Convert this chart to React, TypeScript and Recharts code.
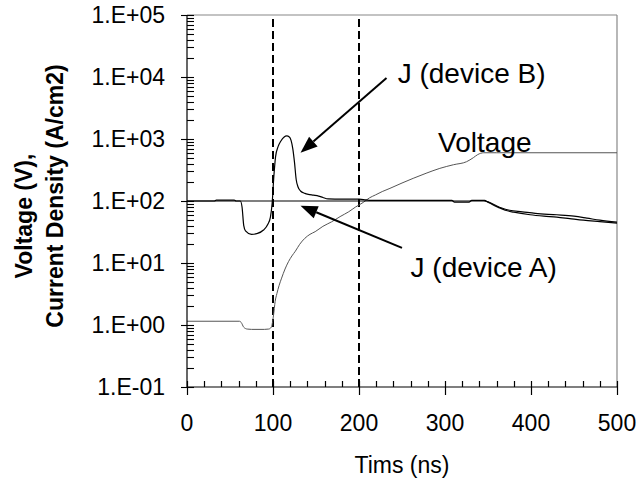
import { LineChart, Line, XAxis, YAxis, ReferenceLine, ReferenceDot, Label } from "recharts";

const FONT = "'Liberation Sans', Arial, Helvetica, sans-serif";

// Voltage (V)
const voltageTime = [0, 61, 63, 66, 70, 75, 90, 95, 98, 100.5, 102.5, 104.5, 107, 110, 114, 118, 122, 126, 131, 137, 143, 149, 158, 168, 178, 188, 196, 205, 212, 219, 227, 236, 250, 263, 278, 294, 310, 325, 333, 338, 345, 360, 500];
const voltageValue = [1.15, 1.15, 1.1, 0.92, 0.86, 0.85, 0.85, 0.86, 0.92, 1.4, 2.4, 3.2, 4.3, 5.7, 8, 10.5, 13, 15.5, 20, 25, 29, 32, 39, 46, 56, 67, 80, 95, 112, 125, 142, 160, 195, 232, 280, 336, 385, 430, 500, 560, 600, 600, 600];

// J (device B), A/cm2
const jBTime = [0, 32, 34, 55, 57, 62, 64, 66, 68, 75, 82, 89, 94, 97, 99, 101, 103, 106, 109, 113, 116, 119, 121, 123, 125, 127, 129, 132, 137, 141, 147, 153, 158, 164, 180, 200, 208, 214, 308, 311, 328, 331, 346, 350, 355, 362, 370, 380, 399, 415, 430, 445, 461, 480, 500];
const jBValue = [100, 100, 103, 103, 100, 100, 80, 40, 33, 29, 30, 34, 42, 55, 92, 250, 520, 760, 920, 1080, 1120, 1080, 950, 700, 420, 220, 170, 145, 133, 128, 124, 120, 114, 108, 107, 107, 104, 102, 102, 96, 96, 102, 102, 96, 88, 79, 71, 66, 60, 57, 55, 52, 49, 46.5, 44];

// J (device A), A/cm2
const jATime = [0, 345, 350, 358, 366, 375, 390, 405, 430, 450, 465, 480, 500];
const jAValue = [100, 100, 97, 86, 77, 71, 67, 63, 60, 57, 53, 49, 45.5];

const xMajor = [0, 100, 200, 300, 400, 500];
const xMinor = [20, 40, 60, 80, 120, 140, 160, 180, 220, 240, 260, 280, 320, 340, 360, 380, 420, 440, 460, 480];
const yMajor = [0.1, 1, 10, 100, 1000, 10000, 100000];
const yLabels = ["1.E-01", "1.E+00", "1.E+01", "1.E+02", "1.E+03", "1.E+04", "1.E+05"];
const yMinorMult = [2, 3, 4, 5, 6, 7, 8, 9];
const yMinor = yMajor.slice(0, -1).flatMap((d) => yMinorMult.map((m) => +(m * d).toPrecision(3)));

const voltageData = voltageTime.map((t, i) => ({ t, v: voltageValue[i] }));
const jBData = jBTime.map((t, i) => ({ t, v: jBValue[i] }));
const jAData = jATime.map((t, i) => ({ t, v: jAValue[i] }));

// annotation positions and arrow ends, in data units
const notes = [
  { text: "J (device B)", t: 245, v: 11600, from: { t: 232, v: 9600 }, to: { t: 132, v: 600 } },
  { text: "J (device A)", t: 260, v: 8.6, from: { t: 250, v: 17.5 }, to: { t: 132, v: 84 } },
  { text: "Voltage", t: 292, v: 900, from: null, to: null },
];

const X_TICK = 8;
const X_GAP = 20;
const Y_TICK = 7;
const Y_GAP = 15;

function YTick(props: any) {
  const { x, y, payload } = props;
  const i = yMajor.findIndex((m) => Math.abs(m - payload.value) < m * 1e-6);
  if (i < 0) return <g />;
  return (
    <text x={x} y={y + 8} textAnchor="end" fontFamily={FONT} fontSize={23} fill="#000">
      {yLabels[i]}
    </text>
  );
}

function XTick(props: any) {
  const { x, y, payload } = props;
  return (
    <text x={x} y={y + 16} textAnchor="middle" fontFamily={FONT} fontSize={23} fill="#000">
      {payload.value}
    </text>
  );
}

// tick marks: a full-length segment from the library scales, only its axis end is drawn
function xTickMark(major: boolean) {
  return (p: any) => {
    const xb = Math.round(p.x1) + 0.5;
    const yb = Math.max(p.y1, p.y2);
    return (
      <path d={`M${xb},${yb - 6}L${xb},${major ? yb + 8 : yb}`} stroke="#000" strokeWidth={1.2} fill="none" />
    );
  };
}

function yTickMark(major: boolean) {
  return (p: any) => {
    const xl = Math.min(p.x1, p.x2);
    const yb = Math.round(p.y1) + 0.5;
    return (
      <path d={`M${major ? xl - 6 : xl},${yb}L${xl + 7},${yb}`} stroke="#000" strokeWidth={1.1} fill="none" />
    );
  };
}

function Arrow(props: any) {
  const { x1, y1, x2, y2 } = props;
  const dx = x2 - x1;
  const dy = y2 - y1;
  const len = Math.sqrt(dx * dx + dy * dy);
  const ux = dx / len;
  const uy = dy / len;
  const hl = 17;
  const hw = 6.5;
  const bx = x2 - ux * hl;
  const by = y2 - uy * hl;
  return (
    <g>
      <line x1={x1} y1={y1} x2={bx} y2={by} stroke="#000" strokeWidth={2} />
      <polygon
        points={`${x2},${y2} ${bx - uy * hw},${by + ux * hw} ${bx + uy * hw},${by - ux * hw}`}
        fill="#000"
      />
    </g>
  );
}

export default function App() {
  return (
    <div style={{ position: "absolute", left: 0, top: 0, background: "#fff" }}>
      <LineChart width={641} height={482} margin={{ top: 15, right: 24, bottom: 0, left: 0 }}>
        <XAxis
          type="number"
          dataKey="t"
          domain={[0, 500]}
          ticks={xMajor}
          interval={0}
          tickLine={false}
          tickSize={X_TICK}
          tickMargin={X_GAP}
          tick={<XTick />}
          axisLine={{ stroke: "#000", strokeWidth: 1.2 }}
          height={95}
          allowDataOverflow
        >
          <Label
            content={(p: any) => {
              const vb = p.viewBox;
              return (
                <text x={vb.x + vb.width / 2} y={vb.y + 86} textAnchor="middle" fontFamily={FONT} fontSize={23} fill="#000">
                  Tims (ns)
                </text>
              );
            }}
          />
        </XAxis>
        <YAxis
          type="number"
          scale="log"
          domain={[0.1, 100000]}
          ticks={yMajor}
          interval={0}
          tickLine={false}
          tickSize={Y_TICK}
          tickMargin={Y_GAP}
          tick={<YTick />}
          axisLine={{ stroke: "#000", strokeWidth: 1.2 }}
          width={187}
          allowDataOverflow
        >
          <Label
            content={(p: any) => {
              const vb = p.viewBox;
              const c1 = vb.y + 201;
              const c2 = vb.y + 181;
              return (
                <g fontFamily={FONT} fontSize={23} fontWeight="bold" fill="#000">
                  <text x={32} y={c1} transform={`rotate(-90 32 ${c1})`} textAnchor="middle">
                    Voltage (V),
                  </text>
                  <text x={63} y={c2} transform={`rotate(-90 63 ${c2})`} textAnchor="middle">
                    Current Density (A/cm2)
                  </text>
                </g>
              );
            }}
          />
        </YAxis>
        <ReferenceLine y={100000} stroke="#888" strokeWidth={1.2} />
        <ReferenceLine x={500} stroke="#888" strokeWidth={1.2} />
        <ReferenceLine x={100} stroke="#000" strokeWidth={2} strokeDasharray="8 4" />
        <ReferenceLine x={200} stroke="#000" strokeWidth={2} strokeDasharray="8 4" />
        <Line data={voltageData} dataKey="v" type="monotone" stroke="#555" strokeWidth={1} dot={false} isAnimationActive={false} />
        <Line data={jAData} dataKey="v" type="monotone" stroke="#000" strokeWidth={1.2} dot={false} isAnimationActive={false} />
        <Line data={jBData} dataKey="v" type="monotone" stroke="#000" strokeWidth={1.2} dot={false} isAnimationActive={false} />
        {xMinor.map((v) => (
          <ReferenceLine
            key={"xm" + v}
            segment={[{ x: v, y: 100000 }, { x: v, y: 0.1 }]}
            ifOverflow="visible"
            shape={xTickMark(false)}
          />
        ))}
        {xMajor.map((v) => (
          <ReferenceLine
            key={"xM" + v}
            segment={[{ x: v, y: 100000 }, { x: v, y: 0.1 }]}
            ifOverflow="visible"
            shape={xTickMark(true)}
          />
        ))}
        {yMinor.map((v) => (
          <ReferenceLine
            key={"ym" + v}
            segment={[{ x: 0, y: v }, { x: 500, y: v }]}
            ifOverflow="visible"
            shape={yTickMark(false)}
          />
        ))}
        {yMajor.map((v) => (
          <ReferenceLine
            key={"yM" + v}
            segment={[{ x: 0, y: v }, { x: 500, y: v }]}
            ifOverflow="visible"
            shape={yTickMark(true)}
          />
        ))}
        {notes.map((n) =>
          n.from && n.to ? (
            <ReferenceLine
              key={"a" + n.text}
              segment={[
                { x: n.from.t, y: n.from.v },
                { x: n.to.t, y: n.to.v },
              ]}
              shape={(p: any) => <Arrow {...p} />}
            />
          ) : null
        )}
        {notes.map((n) => (
          <ReferenceDot
            key={"t" + n.text}
            x={n.t}
            y={n.v}
            r={0}
            shape={(p: any) => (
              <text x={p.cx} y={p.cy + 10} fontFamily={FONT} fontSize={28} fill="#000">
                {n.text}
              </text>
            )}
          />
        ))}
      </LineChart>
    </div>
  );
}
